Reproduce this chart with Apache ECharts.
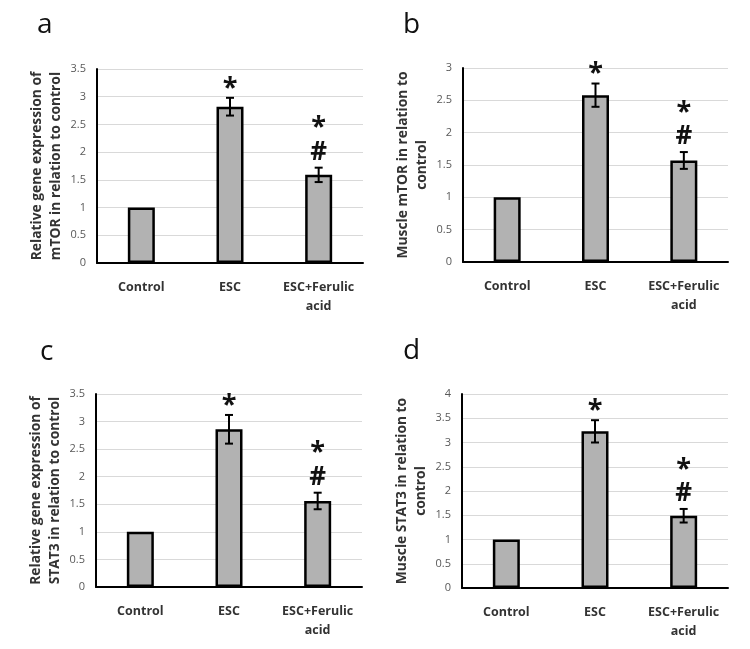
<!DOCTYPE html>
<html>
<head>
<meta charset="utf-8">
<script src="https://cdn.jsdelivr.net/npm/echarts@6/dist/echarts.min.js"></script>
<style>
  html, body { margin: 0; padding: 0; background: #fff; }
  #chart { width: 750px; height: 649px; }
</style>
</head>
<body>
<div id="chart"></div>
<script>
// ---- data ----
const categories = ['Control', 'ESC', 'ESC+Ferulic\nacid'];

const mtorGeneMean = [1, 2.82, 1.59];
const mtorGeneSE   = [0, 0.16, 0.13];

const mtorMuscleMean = [1, 2.58, 1.57];
const mtorMuscleSE   = [0, 0.18, 0.13];

const stat3GeneMean = [1, 2.86, 1.56];
const stat3GeneSE   = [0, 0.26, 0.15];

const stat3MuscleMean = [1, 3.23, 1.49];
const stat3MuscleSE   = [0, 0.23, 0.14];

const significance = [[], ['*'], ['*', '#']];

const panelLetters = ['a', 'b', 'c', 'd'];
const yTitles = [
  'Relative gene expression of\nmTOR in relation to control',
  'Muscle mTOR in relation to\ncontrol',
  'Relative gene expression of\nSTAT3 in relation to control',
  'Muscle STAT3 in relation to\ncontrol'
];
const yMax = [3.5, 3, 3.5, 4];
const yStep = 0.5;

// ---- layout ----
const FONT = '"Open Sans", sans-serif';
const panels = [
  { mean: mtorGeneMean,    se: mtorGeneSE,    grid: { left: 97,  top: 69,  width: 266, height: 194 }, gap: 31, lx: 37,  ly: 30 },
  { mean: mtorMuscleMean,  se: mtorMuscleSE,  grid: { left: 463, top: 68,  width: 265, height: 194 }, gap: 31, lx: 403, ly: 30 },
  { mean: stat3GeneMean,   se: stat3GeneSE,   grid: { left: 96,  top: 394, width: 266, height: 193 }, gap: 31, lx: 40,  ly: 357 },
  { mean: stat3MuscleMean, se: stat3MuscleSE, grid: { left: 462, top: 394, width: 266, height: 194 }, gap: 31, lx: 403, ly: 356 }
];

const grids = [], xAxes = [], yAxes = [], series = [], graphics = [];

panels.forEach((p, k) => {
  grids.push(p.grid);
  xAxes.push({
    type: 'category', gridIndex: k, data: categories,
    axisLine: { lineStyle: { color: '#000', width: 2 } },
    axisTick: { show: false },
    axisLabel: { color: '#333', fontFamily: FONT, fontWeight: 'bold', fontSize: 12.5, lineHeight: 19, margin: 15, interval: 0 }
  });
  yAxes.push({
    type: 'value', gridIndex: k, min: 0, max: yMax[k], interval: yStep,
    name: yTitles[k], nameLocation: 'middle', nameGap: p.gap, nameRotate: 90,
    nameTextStyle: { color: '#333', fontFamily: FONT, fontWeight: 'bold', fontSize: 13.8, lineHeight: 19 },
    axisLine: { show: true, lineStyle: { color: '#000', width: 2 } },
    axisTick: { show: false },
    axisLabel: { color: '#595959', fontFamily: FONT, fontSize: 11, margin: 11 },
    splitLine: { lineStyle: { color: '#d9d9d9', width: 1 } }
  });
  series.push({
    type: 'bar', xAxisIndex: k, yAxisIndex: k, data: p.mean,
    barWidth: 27,
    itemStyle: { color: '#b2b2b2', borderColor: '#000', borderWidth: 2.5 },
    z: 2
  });
  series.push({
    type: 'custom', xAxisIndex: k, yAxisIndex: k,
    data: p.mean.map((m, i) => [i, m, p.se[i]]),
    z: 5,
    renderItem: function (params, api) {
      const i = api.value(0), m = api.value(1), e = api.value(2);
      const top = api.coord([i, m + e]);
      const bot = api.coord([i, m - e]);
      const children = [];
      if (e > 0) {
        const cap = 4;
        const ls = { stroke: '#000', lineWidth: 2 };
        children.push({ type: 'line', shape: { x1: top[0], y1: top[1], x2: bot[0], y2: bot[1] }, style: ls });
        children.push({ type: 'line', shape: { x1: top[0] - cap, y1: top[1], x2: top[0] + cap, y2: top[1] }, style: ls });
        children.push({ type: 'line', shape: { x1: bot[0] - cap, y1: bot[1], x2: bot[0] + cap, y2: bot[1] }, style: ls });
      }
      const marks = significance[params.dataIndex];
      const n = marks.length;
      marks.forEach((s, j) => {
        const level = n - j; // 1 = closest to the bar
        const cy = top[1] - 15 - (level - 1) * 30;
        const isStar = s === '*';
        children.push({
          type: 'text',
          style: {
            text: s, x: top[0], y: cy + (isStar ? 5 : 0),
            align: 'center', verticalAlign: 'middle',
            font: 'bold ' + (isStar ? 27 : 26) + 'px ' + FONT,
            fill: '#111'
          }
        });
      });
      return { type: 'group', children: children };
    }
  });
  graphics.push({
    type: 'text', left: p.lx, top: p.ly - 19,
    style: { text: panelLetters[k], font: '28px ' + FONT, fill: '#111' }
  });
});

const chart = echarts.init(document.getElementById('chart'), null, { renderer: 'canvas' });
chart.setOption({
  backgroundColor: '#fff',
  animation: false,
  grid: grids,
  xAxis: xAxes,
  yAxis: yAxes,
  series: series,
  graphic: graphics
});
</script>
</body>
</html>
